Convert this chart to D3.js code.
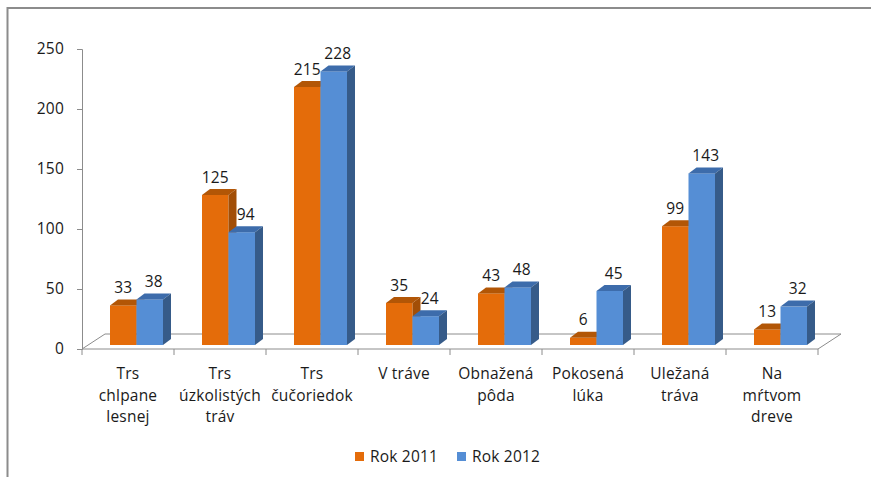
<!DOCTYPE html>
<html>
<head>
<meta charset="utf-8">
<script src="https://cdn.jsdelivr.net/npm/d3@7"></script>
<style>
  body { margin: 0; background: #fff; }
  text { font-family: "Open Sans", sans-serif; fill: #1a1a1a; letter-spacing: 0.2px; }
</style>
</head>
<body>
<script>
var categories = [
    ["Trs", "chlpane", "lesnej"],
    ["Trs", "úzkolistých", "tráv"],
    ["Trs", "čučoriedok"],
    ["V tráve"],
    ["Obnažená", "pôda"],
    ["Pokosená", "lúka"],
    ["Uležaná", "tráva"],
    ["Na", "mŕtvom", "dreve"]
];
var series = ["Rok 2011", "Rok 2012"];
var rok2011 = [33, 125, 215, 35, 43, 6, 99, 13];
var rok2012 = [38, 94, 228, 24, 48, 45, 143, 32];
var yTicks = [0, 50, 100, 150, 200, 250];

var width = 871, height = 477;
var colors = [
    { front: "#e46c0a", top: "#b25606", side: "#a24e06" },
    { front: "#558ed5", top: "#3d6cab", side: "#365b89" }
];

var svg = d3.select("body").append("svg")
    .attr("width", width)
    .attr("height", height);

// outer frame (cut at right and bottom)
svg.append("rect")
    .attr("x", 7.5).attr("y", 8)
    .attr("width", 900).attr("height", 500)
    .attr("fill", "none")
    .attr("stroke", "#8c8c8c")
    .attr("stroke-width", 2);

var left = 82, right = 818, base = 349, topY = 49;
var floorDx = 23, floorDy = -15;   // floor depth
var dx = 8, dy = -6;               // bar depth

var x = d3.scaleBand().domain(d3.range(categories.length)).range([left, right]);
var y = d3.scaleLinear().domain([0, 250]).range([base, topY]);

// floor
svg.append("path")
    .attr("d", "M" + left + "," + base + "L" + (left + floorDx) + "," + (base + floorDy) +
        "L" + (right + floorDx) + "," + (base + floorDy) + "L" + right + "," + base)
    .attr("fill", "none")
    .attr("stroke", "#8c8c8c")
    .attr("stroke-width", 1);

// y axis
var yAxis = svg.append("g")
    .attr("transform", "translate(" + left + ",0)")
    .call(d3.axisLeft(y).tickValues(yTicks).tickSize(5).tickPadding(13));
yAxis.select(".domain").attr("stroke", "#8c8c8c");
yAxis.selectAll(".tick line").attr("stroke", "#8c8c8c");
yAxis.selectAll(".tick text")
    .style("font-family", "'Open Sans', sans-serif")
    .style("font-size", "15.5px")
    .attr("fill", "#1a1a1a");

// x axis
var xAxis = svg.append("g")
    .attr("transform", "translate(0," + base + ")");
xAxis.append("line")
    .attr("x1", left).attr("x2", right)
    .attr("stroke", "#8c8c8c");
xAxis.selectAll(".xt")
    .data(d3.range(categories.length + 1))
    .join("line")
    .attr("class", "xt")
    .attr("x1", d => left + d * x.bandwidth())
    .attr("x2", d => left + d * x.bandwidth())
    .attr("y1", 0).attr("y2", 6)
    .attr("stroke", "#8c8c8c");

var catLabels = svg.append("g").selectAll("text")
    .data(categories)
    .join("text")
    .attr("text-anchor", "middle")
    .style("font-size", "15.5px")
    .attr("x", (d, i) => x(i) + x.bandwidth() / 2)
    .attr("y", 379);
catLabels.selectAll("tspan")
    .data(d => d)
    .join("tspan")
    .attr("x", function() { return this.parentNode.getAttribute("x"); })
    .attr("dy", (d, i) => i === 0 ? 0 : 21.5)
    .text(d => d);

// bars
var barW = 26.5, barOffset = 28, barLift = 4;
var values = [rok2011, rok2012];
var bars = [];
categories.forEach(function(c, i) {
    values.forEach(function(vals, s) {
        bars.push({ i: i, s: s, v: vals[i] });
    });
});

var barG = svg.append("g").selectAll("g")
    .data(bars)
    .join("g");

function bx(d) { return x(d.i) + barOffset + d.s * barW; }
function byTop(d) { return y(d.v) - barLift; }
var yb = base - barLift;

barG.append("rect")
    .attr("x", bx)
    .attr("y", byTop)
    .attr("width", barW)
    .attr("height", d => yb - byTop(d))
    .attr("fill", d => colors[d.s].front);

barG.append("path")
    .attr("d", function(d) {
        var x0 = bx(d), y0 = byTop(d);
        return "M" + x0 + "," + y0 + "L" + (x0 + dx) + "," + (y0 + dy) +
            "L" + (x0 + barW + dx) + "," + (y0 + dy) + "L" + (x0 + barW) + "," + y0 + "Z";
    })
    .attr("fill", d => colors[d.s].top);

barG.append("path")
    .attr("d", function(d) {
        var x1 = bx(d) + barW, y0 = byTop(d);
        return "M" + x1 + "," + y0 + "L" + (x1 + dx) + "," + (y0 + dy) +
            "L" + (x1 + dx) + "," + (yb + dy) + "L" + x1 + "," + yb + "Z";
    })
    .attr("fill", d => colors[d.s].side);

barG.append("text")
    .attr("text-anchor", "middle")
    .style("font-size", "15.5px")
    .attr("x", d => bx(d) + barW / 2 + (d.s === 1 ? 4 : 0))
    .attr("y", d => byTop(d) - 12.5)
    .text(d => d.v);

// legend
var legend = svg.append("g").selectAll("g")
    .data(series)
    .join("g")
    .attr("transform", (d, i) => "translate(" + (355 + i * 102) + ",452)");
legend.append("rect")
    .attr("width", 9).attr("height", 9)
    .attr("fill", (d, i) => colors[i].front);
legend.append("text")
    .attr("x", 15).attr("y", 9.5)
    .style("font-size", "15.5px")
    .text(d => d);
</script>
</body>
</html>
